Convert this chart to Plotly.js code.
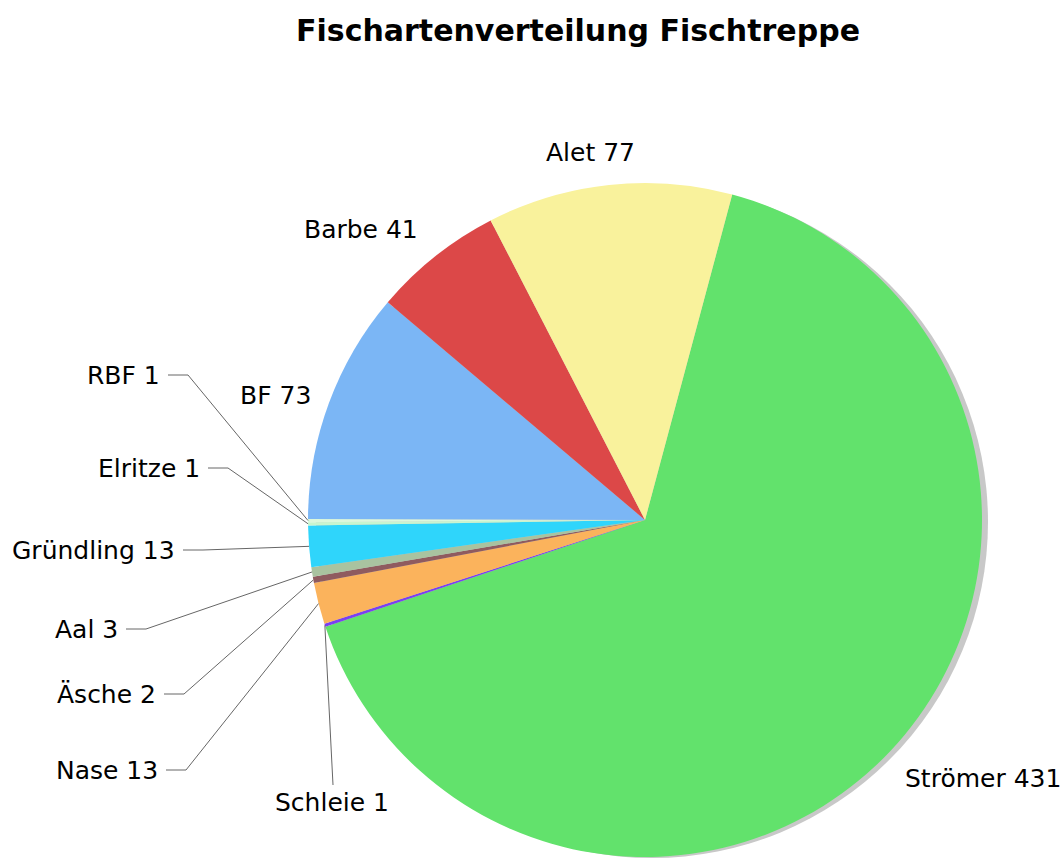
<!DOCTYPE html>
<html>
<head>
<meta charset="utf-8">
<script src="https://cdn.plot.ly/plotly-3.0.1.min.js"></script>
<style>
  body { margin: 0; background: #fff; }
  #myPlot { width: 1064px; height: 858px; }
</style>
</head>
<body>
<div id="myPlot"></div>
<script>
// Data
var species = ["Strömer", "Schleie", "Nase", "Äsche", "Aal", "Gründling", "Elritze", "RBF", "BF", "Barbe", "Alet"];
var counts = [431, 1, 13, 2, 3, 13, 1, 1, 73, 41, 77];
var colors = ["#62e26c", "#7b3ff2", "#fbb35c", "#8f5b5f", "#a9c3a0", "#2fd5fb", "#c8f5cf", "#dcf8dc", "#7bb6f5", "#dc4848", "#f9f29c"];

// label placement (pixels): x, y, anchor, leader line or not
var labelX = [903, 332, 160, 158, 120, 177, 202, 162, 313, 420, 590];
var labelY = [778, 802, 770, 694, 629, 550, 468, 375, 395, 230, 153];
var labelAnchor = ["left", "center", "right", "right", "right", "right", "right", "right", "right", "right", "center"];
var hasLine = [false, true, true, true, true, true, true, true, false, false, false];

var W = 1064, H = 858;
var L = 308, T = 183, PW = 681, PH = 675;
var cx = 645, cy = 520, R = 337;
var rotation = 15;

function px2x(p) { return (p - L) / PW; }
function py2y(p) { return (T + PH - p) / PH; }

var total = counts.reduce(function (a, b) { return a + b; }, 0);

var annotations = [];
var shapes = [];
var cum = 0;
for (var i = 0; i < counts.length; i++) {
    var mid = rotation + (cum + counts[i] / 2) / total * 360;
    cum += counts[i];
    var a = mid * Math.PI / 180;
    var ex = cx + R * Math.sin(a);
    var ey = cy - R * Math.cos(a);

    annotations.push({
        text: species[i] + " " + counts[i],
        x: px2x(labelX[i]), y: py2y(labelY[i]),
        xref: "paper", yref: "paper",
        xanchor: labelAnchor[i], yanchor: "middle",
        showarrow: false,
        font: { family: "DejaVu Sans, Verdana, sans-serif", size: 25, color: "#000" }
    });

    if (hasLine[i]) {
        var path;
        if (labelAnchor[i] === "center") {
            var sx = labelX[i] + 1, sy = labelY[i] - 17;
            path = "M" + px2x(sx) + "," + py2y(sy) + " L" + px2x(ex) + "," + py2y(ey);
        } else {
            var sx = labelX[i] + 6, bx = labelX[i] + 26;
            path = "M" + px2x(sx) + "," + py2y(labelY[i]) +
                " L" + px2x(bx) + "," + py2y(labelY[i]) +
                " L" + px2x(ex) + "," + py2y(ey);
        }
        shapes.push({
            type: "path", xref: "paper", yref: "paper", path: path,
            line: { color: "#666", width: 1 }
        });
    }
}

var data = [{
    type: "pie",
    values: [1],
    marker: { colors: ["#c8c8c8"] },
    domain: { x: [7 / PW, 1], y: [0, 1 - 3 / PH] },
    textinfo: "none",
    hoverinfo: "skip",
    showlegend: false,
    sort: false
}, {
    type: "pie",
    labels: species,
    values: counts,
    marker: { colors: colors, line: { width: 0 } },
    domain: { x: [0, 674 / PW], y: [1 / PH, 1] },
    sort: false,
    direction: "clockwise",
    rotation: rotation,
    textinfo: "none",
    showlegend: false
}];

var layout = {
    width: W, height: H,
    margin: { l: L, r: W - L - PW, t: T, b: H - T - PH },
    title: {
        text: "<b>Fischartenverteilung Fischtreppe</b>",
        font: { family: "DejaVu Sans, Verdana, sans-serif", size: 30, color: "#000" },
        x: 578 / W, xanchor: "center",
        y: 1 - 30 / H, yanchor: "middle", yref: "container"
    },
    annotations: annotations,
    shapes: shapes,
    paper_bgcolor: "#fff",
    showlegend: false
};

Plotly.newPlot("myPlot", data, layout, { displayModeBar: false });
</script>
</body>
</html>
